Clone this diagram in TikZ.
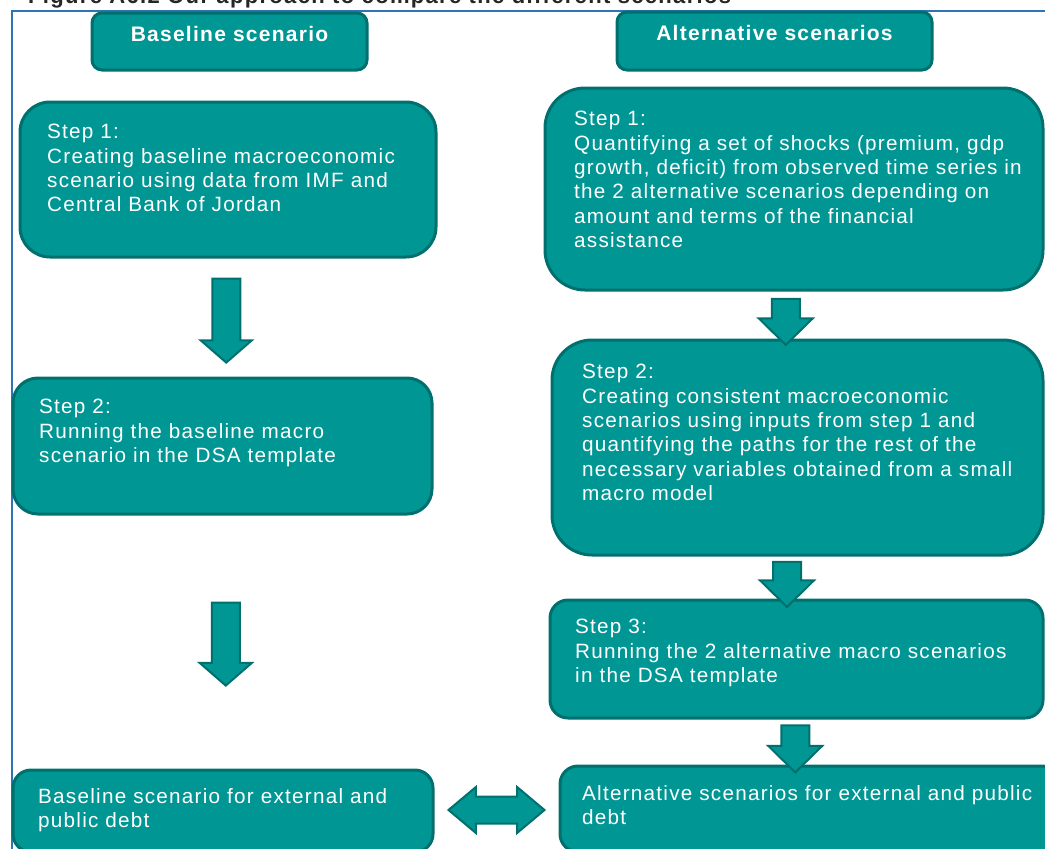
\documentclass[tikz,border=0pt]{standalone}
\usepackage{fontspec}
\setmainfont[LetterSpace=6]{Liberation Sans}
\usetikzlibrary{shapes.arrows,fit,calc}
\definecolor{tealfill}{RGB}{0,150,148}
\definecolor{tealline}{RGB}{0,112,110}
\definecolor{frameblue}{RGB}{46,117,182}

\begin{document}
\begin{tikzpicture}[x=1pt,y=-1pt,
	box/.style={draw=tealline,fill=tealfill,line width=3pt,inner sep=0pt},
	hdr/.style={box,rounded corners=10pt,text=white,font=\bfseries\fontsize{21}{24}\selectfont},
	txt/.style={anchor=north west,inner sep=0pt,text=white,align=left,font=\fontsize{20.7}{24.4}\selectfont},
	downarr/.style={single arrow,shape border rotate=270,draw=tealline,fill=tealfill,line width=2pt},
	botharr/.style={double arrow,draw=tealline,fill=tealfill,line width=2pt}]
			\useasboundingbox (0,0) rectangle (1045,849);
			\clip (0,0) rectangle (1045,849);
			% caption, cut at the top
			\node[anchor=base west,inner sep=0pt,text=black!85,font=\bfseries\fontsize{22}{24}\selectfont] (cap) at (28,3.5) {Figure A6.2 Our approach to compare the different scenarios};
			\draw [color=frameblue,line width=2pt] (12,880)-- (12,11)-- (1060,11);
			% headers
			\node[hdr,fit={(92,13) (367,70)}] (hb) {Baseline scenario};
			\node[hdr,fit={(617,12) (932,70)}] (ha) {Alternative scenarios};
			% baseline column
			\node[box,rounded corners=30pt,fit={(20,102) (436,257)}] (bs1) {};
			\node[txt] (bs1t) at (47,124) {Step 1:\\Creating baseline macroeconomic\\scenario using data from IMF and\\Central Bank of Jordan};
			\node[box,rounded corners=25pt,fit={(13,378) (432,514)}] (bs2) {};
			\node[txt] (bs2t) at (39,399) {Step 2:\\Running the baseline macro\\scenario in the DSA template};
			\node[box,rounded corners=18pt,fit={(13,770) (433,852)}] (br) {};
			\node[txt] (brt) at (38,788) {Baseline scenario for external and\\public debt};
			% alternative column
			\node[box,rounded corners=40pt,fit={(545,88) (1043,290)}] (as1) {};
			\node[txt] (as1t) at (574,111) {Step 1:\\Quantifying a set of shocks (premium, gdp\\growth, deficit) from observed time series in\\the 2 alternative scenarios depending on\\amount and terms of the financial\\assistance};
			\node[box,rounded corners=40pt,fit={(552,340) (1043,555)}] (as2) {};
			\node[txt] (as2t) at (582,364) {Step 2:\\Creating consistent macroeconomic\\scenarios using inputs from step 1 and\\quantifying the paths for the rest of the\\necessary variables obtained from a small\\macro model};
			\node[box,rounded corners=18pt,fit={(550,600) (1043,718)}] (as3) {};
			\node[txt] (as3t) at (575,619) {Step 3:\\Running the 2 alternative macro scenarios\\in the DSA template};
			\node[box,rounded corners=18pt,fit={(560,766) (1060,852)}] (ar) {};
			\node[txt] (art) at (582,785) {Alternative scenarios for external and public\\debt};
			% block arrows
			\node[downarr,inner sep=13pt,minimum width=50pt,minimum height=84pt,single arrow head extend=11.5pt,single arrow tip angle=98] (b12) at ($(bs1.south)!0.5!(bs2.north)+(1,-3)$) {};
			\node[downarr,inner sep=13pt,minimum width=51pt,minimum height=83pt,single arrow head extend=12pt,single arrow tip angle=98] (b23) at ($(bs2.south)!0.5!(br.north)+(3,-4)$) {};
			\node[downarr,inner sep=13pt,minimum width=53pt,minimum height=46pt,single arrow head extend=13pt,single arrow tip angle=91] (a12) at ($(as1.south)!0.5!(as2.north)+(-10,0)$) {};
			\node[downarr,inner sep=13pt,minimum width=53pt,minimum height=45pt,single arrow head extend=13pt,single arrow tip angle=91] (a23) at ($(as2.south)!0.5!(as3.north)+(-10,0)$) {};
			\node[downarr,inner sep=13pt,minimum width=53pt,minimum height=47pt,single arrow head extend=13pt,single arrow tip angle=91] (a34) at ($(as3.south)!0.5!(ar.north)+(-8,0)$) {};
			\node[botharr,inner sep=12.5pt,minimum width=45pt,minimum height=96pt,double arrow head extend=9.5pt,double arrow tip angle=80] (res) at ($(br.east)!0.5!(ar.west)$) {};
			\end{tikzpicture}
\end{document}
